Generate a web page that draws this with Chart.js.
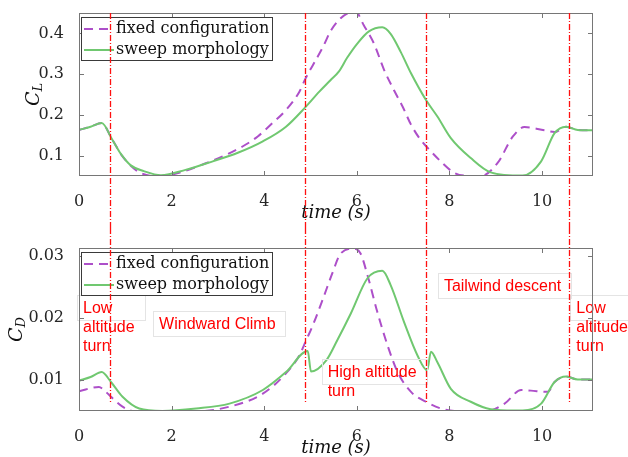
<!DOCTYPE html>
<html>
<head>
<meta charset="utf-8">
<script src="https://cdn.jsdelivr.net/npm/chart.js@4.4.0/dist/chart.umd.min.js"></script>
<style>
body { margin: 0; background: #fff; }
#wrap { position: relative; width: 628px; height: 457px; }
canvas { position: absolute; left: 0; }
</style>
</head>
<body>
<div id="wrap">
	<canvas id="clChart" width="628" height="228" style="top:0"></canvas>
	<canvas id="cdChart" width="628" height="229" style="top:228px"></canvas>
</div>
<script>
var timeTicks = [0, 2, 4, 6, 8, 10];
var clTicks = [0.1, 0.2, 0.3, 0.4];
var cdTicks = [0.01, 0.02, 0.03];
var phaseTimes = [0.67, 4.88, 7.5, 10.59];
var seriesNames = ["fixed configuration", "sweep morphology"];

// lift coefficient
var fixedClTime = [0, 0.25, 0.49, 0.72, 0.94, 1.26, 1.67, 2.16, 2.71, 3.1, 3.54, 3.86, 4.18, 4.47, 4.76, 4.89, 5.05, 5.27, 5.43, 5.63, 5.8, 5.97, 6.15, 6.37, 6.59, 6.8, 6.99, 7.17, 7.35, 7.53, 7.81, 8.1, 8.32, 8.68, 9.04, 9.37, 9.62, 10.05, 10.27, 10.52, 10.77, 11.1];
var fixedCl = [0.163, 0.171, 0.180, 0.139, 0.098, 0.062, 0.049, 0.058, 0.080, 0.098, 0.123, 0.147, 0.180, 0.212, 0.257, 0.289, 0.322, 0.367, 0.405, 0.435, 0.449, 0.454, 0.420, 0.375, 0.310, 0.261, 0.220, 0.176, 0.143, 0.119, 0.086, 0.058, 0.051, 0.050, 0.082, 0.147, 0.170, 0.162, 0.158, 0.171, 0.163, 0.162];
var sweepClTime = [0, 0.25, 0.49, 0.72, 0.9, 1.12, 1.4, 1.77, 2.3, 2.89, 3.43, 3.97, 4.47, 4.89, 5.19, 5.43, 5.61, 5.79, 6.01, 6.26, 6.55, 6.73, 6.95, 7.17, 7.49, 7.74, 8.03, 8.46, 8.89, 9.58, 9.98, 10.27, 10.52, 10.77, 11.1];
var sweepCl = [0.163, 0.171, 0.180, 0.139, 0.105, 0.076, 0.062, 0.052, 0.065, 0.086, 0.107, 0.135, 0.171, 0.219, 0.257, 0.285, 0.306, 0.340, 0.375, 0.405, 0.415, 0.399, 0.354, 0.302, 0.237, 0.196, 0.143, 0.094, 0.059, 0.051, 0.086, 0.155, 0.171, 0.163, 0.162];

// drag coefficient
var fixedCdTime = [0, 0.43, 0.54, 0.69, 0.94, 1.3, 1.8, 2.53, 3.25, 3.97, 4.47, 4.76, 4.89, 5.05, 5.27, 5.48, 5.65, 5.94, 6.08, 6.23, 6.44, 6.66, 6.88, 7.17, 7.49, 7.82, 8.18, 8.82, 9.19, 9.55, 9.76, 10.12, 10.27, 10.52, 10.77, 11.1];
var fixedCd = [0.0081, 0.0088, 0.0083, 0.0072, 0.0056, 0.0047, 0.0047, 0.0048, 0.0056, 0.0077, 0.0110, 0.0139, 0.0161, 0.0188, 0.0231, 0.0274, 0.0304, 0.0312, 0.0304, 0.0269, 0.0210, 0.0156, 0.0112, 0.0080, 0.0064, 0.0053, 0.0049, 0.0049, 0.0061, 0.0083, 0.0082, 0.0080, 0.0096, 0.0105, 0.0100, 0.0100];
var sweepCdTime = [0, 0.25, 0.49, 0.69, 0.94, 1.3, 1.8, 2.53, 3.25, 3.97, 4.47, 4.94, 5.01, 5.34, 5.58, 5.87, 6.23, 6.55, 6.73, 7.02, 7.31, 7.52, 7.6, 7.74, 8.03, 8.46, 8.89, 9.4, 9.58, 9.98, 10.27, 10.52, 10.77, 11.1];
var sweepCd = [0.0098, 0.0104, 0.0112, 0.0096, 0.0072, 0.0053, 0.0049, 0.0053, 0.0061, 0.0083, 0.0112, 0.0146, 0.0113, 0.0131, 0.0164, 0.0207, 0.0264, 0.0276, 0.0253, 0.0193, 0.0139, 0.0115, 0.0145, 0.0128, 0.0085, 0.0064, 0.0052, 0.0050, 0.0050, 0.0061, 0.0096, 0.0105, 0.0100, 0.0100];

var noteLowLeft = ["Low", "altitude", "turn"];
var noteWindward = ["Windward Climb"];
var noteHighTurn = ["High altitude", "turn"];
var noteTailwind = ["Tailwind descent"];
var noteLowRight = ["Low", "altitude", "turn"];

var serifFont = '"DejaVu Serif", serif';

function toPoints(xs, ys) {
	var pts = [];
	for (var i = 0; i < xs.length; i++) {
		pts.push({ x: xs[i], y: ys[i] });
	}
	return pts;
}

// matlab style axes box, inner ticks, legend, titles, notes and phase lines
var matlabLook = {
	id: "matlabLook",
	afterDatasetsDraw: function (chart, args, o) {
		var ctx = chart.ctx, a = chart.chartArea;
		var xs = chart.scales.x, ys = chart.scales.y;
		ctx.save();

		// notes
		ctx.font = '16px "Liberation Sans", Arial, sans-serif';
		ctx.textBaseline = "middle";
		ctx.textAlign = "left";
		(o.notes || []).forEach(function (n) {
			var x = xs.getPixelForValue(n.t), y = ys.getPixelForValue(n.v);
			var w = 0;
			n.lines.forEach(function (s) { w = Math.max(w, ctx.measureText(s).width); });
			ctx.strokeStyle = "#e4e4e4";
			ctx.lineWidth = 1;
			ctx.strokeRect(Math.round(x - 6) + 0.5, Math.round(y - 13) + 0.5, Math.round(w + 16), 25);
			ctx.fillStyle = "#ff0000";
			n.lines.forEach(function (s, i) { ctx.fillText(s, x, y + i * 19); });
		});

		// axes box and inward ticks
		ctx.strokeStyle = "#767676";
		ctx.lineWidth = 1;
		ctx.strokeRect(a.left + 0.5, a.top + 0.5, a.right - a.left - 1, a.bottom - a.top - 1);
		ctx.beginPath();
		xs.ticks.forEach(function (t) {
			var px = Math.round(xs.getPixelForValue(t.value)) + 0.5;
			ctx.moveTo(px, a.bottom); ctx.lineTo(px, a.bottom - 5);
			ctx.moveTo(px, a.top); ctx.lineTo(px, a.top + 5);
		});
		ys.ticks.forEach(function (t) {
			var py = Math.round(ys.getPixelForValue(t.value)) + 0.5;
			ctx.moveTo(a.left, py); ctx.lineTo(a.left + 5, py);
			ctx.moveTo(a.right, py); ctx.lineTo(a.right - 5, py);
		});
		ctx.stroke();

		// legend
		var lx = a.left + 2, ly = a.top + 4, lw = 191, lh = 43;
		ctx.fillStyle = "#fff";
		ctx.fillRect(lx, ly, lw, lh);
		ctx.strokeStyle = "#3a3a3a";
		ctx.strokeRect(lx + 0.5, ly + 0.5, lw, lh);
		chart.data.datasets.forEach(function (ds, i) {
			var yy = ly + 12 + i * 21;
			ctx.strokeStyle = ds.borderColor;
			ctx.lineWidth = ds.borderWidth;
			ctx.setLineDash(ds.borderDash || []);
			ctx.beginPath(); ctx.moveTo(lx + 3, yy); ctx.lineTo(lx + 33, yy); ctx.stroke();
			ctx.setLineDash([]);
			ctx.fillStyle = "#111";
			ctx.font = "16px " + serifFont;
			ctx.fillText(ds.label, lx + 35, yy);
		});

		// x title
		ctx.font = "italic 18px " + serifFont;
		ctx.textAlign = "center";
		ctx.fillStyle = "#111";
		ctx.fillText("time (s)", (a.left + a.right) / 2, a.bottom + 37);

		// y title with subscript
		ctx.save();
		ctx.translate(o.yTitleX, (a.top + a.bottom) / 2);
		ctx.rotate(-Math.PI / 2);
		ctx.textAlign = "left";
		ctx.font = "italic 19px " + serifFont;
		var cw = ctx.measureText("C").width;
		ctx.font = "italic 13px " + serifFont;
		var sw = ctx.measureText(o.ySub).width;
		var start = -(cw + sw) / 2;
		ctx.font = "italic 19px " + serifFont;
		ctx.fillText("C", start, 0);
		ctx.font = "italic 13px " + serifFont;
		ctx.fillText(o.ySub, start + cw, 5);
		ctx.restore();

		// phase boundaries
		ctx.strokeStyle = "#ff1010";
		ctx.lineWidth = 1.3;
		ctx.setLineDash([6, 2, 1, 2]);
		phaseTimes.forEach(function (t) {
			var px = Math.round(xs.getPixelForValue(t)) + 0.5;
			var y0 = o.phaseDown ? a.top : 0;
			var y1 = o.phaseDown ? chart.height : ys.getPixelForValue(o.phaseEnd);
			ctx.beginPath(); ctx.moveTo(px, y0); ctx.lineTo(px, y1); ctx.stroke();
		});
		ctx.restore();
	}
};

function buildChart(id, fixedPts, sweepPts, yMin, yMax, yTicks, look, canvasH, areaTop, areaBottom) {
	var tickFont = { family: serifFont, size: 16 };
	return new Chart(document.getElementById(id), {
		type: "line",
		data: {
			datasets: [{
				label: seriesNames[0],
				data: fixedPts,
				borderColor: "#ad4fc9",
				borderWidth: 2,
				borderDash: [9, 6],
				pointRadius: 0,
				cubicInterpolationMode: "monotone",
				fill: false,
				order: 2
			}, {
				label: seriesNames[1],
				data: sweepPts,
				borderColor: "#70c870",
				borderWidth: 2,
				pointRadius: 0,
				cubicInterpolationMode: "monotone",
				fill: false,
				order: 1
			}]
		},
		options: {
			responsive: false,
			animation: false,
			devicePixelRatio: 1,
			layout: { padding: { top: areaTop, right: 35, bottom: 0, left: 0 } },
			plugins: {
				legend: { display: false },
				tooltip: { enabled: false },
				matlabLook: look
			},
			scales: {
				x: {
					type: "linear",
					min: 0,
					max: 11.1,
					grid: { display: false },
					border: { display: false },
					afterBuildTicks: function (s) { s.ticks = timeTicks.map(function (v) { return { value: v }; }); },
					afterFit: function (s) { s.height = canvasH - areaBottom; s.paddingLeft = 0; s.paddingRight = 0; },
					ticks: { font: tickFont, color: "#262626", padding: 8, maxRotation: 0, autoSkip: false, callback: function (v) { return String(v); } }
				},
				y: {
					type: "linear",
					min: yMin,
					max: yMax,
					grid: { display: false },
					border: { display: false },
					afterBuildTicks: function (s) { s.ticks = yTicks.map(function (v) { return { value: v }; }); },
					afterFit: function (s) { s.width = 79; s.paddingTop = 0; s.paddingBottom = 0; },
					ticks: { font: tickFont, color: "#262626", padding: 7, autoSkip: false, callback: function (v) { return String(v); } }
				}
			}
		},
		plugins: [matlabLook]
	});
}

buildChart("clChart", toPoints(fixedClTime, fixedCl), toPoints(sweepClTime, sweepCl),
	0.05, 0.45, clTicks,
	{ ySub: "L", yTitleX: 34, phaseDown: true, notes: [] },
	228, 13, 176);

buildChart("cdChart", toPoints(fixedCdTime, fixedCd), toPoints(sweepCdTime, sweepCd),
	0.0049, 0.0313, cdTicks,
	{
		ySub: "D", yTitleX: 17, phaseDown: false, phaseEnd: 0.0062,
		notes: [
			{ t: 0.087, v: 0.02156, lines: noteLowLeft },
			{ t: 1.73, v: 0.01896, lines: noteWindward },
			{ t: 5.37, v: 0.01118, lines: noteHighTurn },
			{ t: 7.88, v: 0.02512, lines: noteTailwind },
			{ t: 10.74, v: 0.02156, lines: noteLowRight }
		]
	},
	229, 20, 183);
</script>
</body>
</html>
